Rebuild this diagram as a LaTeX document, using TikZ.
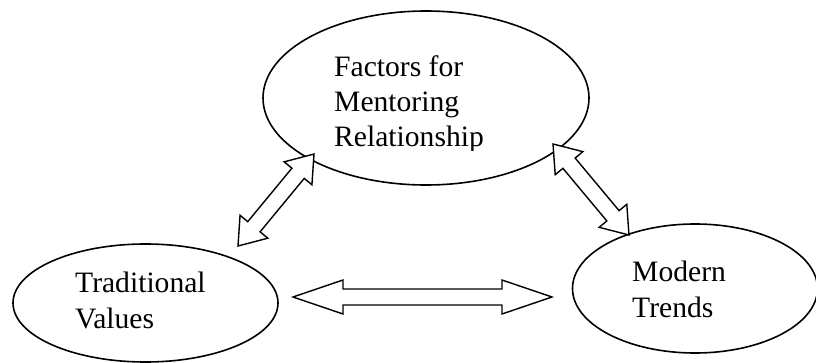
\documentclass[tikz,border=0pt]{standalone}
\usepackage{fontspec}
\setmainfont{Liberation Serif}
\usetikzlibrary{calc,shapes.geometric}
\tikzset{
  oval/.style={draw, ellipse, line width=1.6pt, inner sep=0pt},
  lbl/.style={anchor=base west, inner sep=0pt, font=\fontsize{29.6}{36}\selectfont},
  arrowline/.style={draw, line width=1.4pt, line join=miter, fill=white}
}
\newcommand\dblarr[4]{% from, to, head length, head half width (shaft half width 8)
  \path[arrowline] let \p1=($(#2)-(#1)$), \n1={atan2(\y1,\x1)}, \n2={veclen(\x1,\y1)} in
    [shift={(#1)}, rotate=\n1]
    (0pt,0pt) -- (#3pt,#4pt) -- (#3pt,8pt) -- ({\n2*1pt-#3pt},8pt) -- ({\n2*1pt-#3pt},#4pt)
    -- ({\n2*1pt},0pt) -- ({\n2*1pt-#3pt},-#4pt) -- ({\n2*1pt-#3pt},-8pt) -- (#3pt,-8pt)
    -- (#3pt,-#4pt) -- cycle;}
\begin{document}
\begin{tikzpicture}[x=1pt,y=-1pt]
\useasboundingbox (0,0) rectangle (816,363);
% ellipses
\node[oval, minimum width=326pt, minimum height=174pt] (F) at (426,98) {};
\node[oval, minimum width=265pt, minimum height=118pt] (T) at (145.5,303) {};
\node[oval, minimum width=245pt, minimum height=129pt] (M) at (695,288.5) {};
% texts
\node[lbl] (F1) at (334,77) {Factors for};
\node[lbl] (F2) at (334,112) {Mentoring};
\begin{scope}
  \clip (0,0) rectangle (816,151);
  \node[lbl] (F3) at (334,147) {Relationship};
\end{scope}
\node[lbl] (T1) at (75,292) {Traditional};
\node[lbl] (T2) at (75,328) {Values};
\node[lbl] (M1) at (632,281) {Modern};
\node[lbl] (M2) at (632,317) {Trends};
% arrow tips
\coordinate (la) at (238,246);
\coordinate (lb) at (314,154);
\coordinate (ra) at (553,144);
\coordinate (rb) at (629,235);
\coordinate (ha) at (293,297);
\coordinate (hb) at (552,297);
\dblarr{la}{lb}{25}{18}
\dblarr{ra}{rb}{25}{18}
\dblarr{ha}{hb}{50}{17}
\end{tikzpicture}
\end{document}
